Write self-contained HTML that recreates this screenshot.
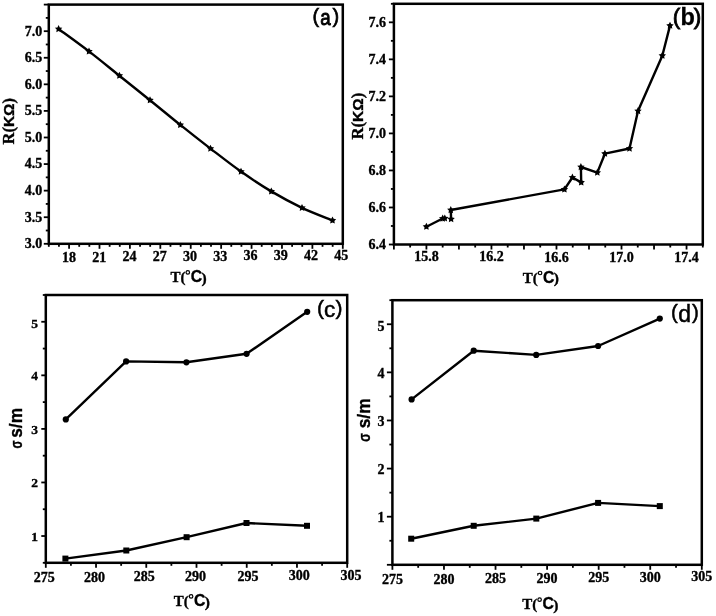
<!DOCTYPE html>
<html><head><meta charset="utf-8"><style>
html,body{margin:0;padding:0;background:#fff;}
svg{display:block;filter:grayscale(1);}
text{stroke:#000;stroke-width:0.35px;}
</style></head><body>
<svg width="716" height="616" viewBox="0 0 716 616">
<rect width="716" height="616" fill="#fff"/>
<rect x="48.80" y="4.60" width="294.00" height="239.20" fill="none" stroke="#000" stroke-width="2.5"/>
<line x1="43.80" y1="243.80" x2="48.80" y2="243.80" stroke="#000" stroke-width="1.8"/>
<line x1="45.80" y1="230.51" x2="48.80" y2="230.51" stroke="#000" stroke-width="1.8"/>
<line x1="43.80" y1="217.22" x2="48.80" y2="217.22" stroke="#000" stroke-width="1.8"/>
<line x1="45.80" y1="203.93" x2="48.80" y2="203.93" stroke="#000" stroke-width="1.8"/>
<line x1="43.80" y1="190.64" x2="48.80" y2="190.64" stroke="#000" stroke-width="1.8"/>
<line x1="45.80" y1="177.36" x2="48.80" y2="177.36" stroke="#000" stroke-width="1.8"/>
<line x1="43.80" y1="164.07" x2="48.80" y2="164.07" stroke="#000" stroke-width="1.8"/>
<line x1="45.80" y1="150.78" x2="48.80" y2="150.78" stroke="#000" stroke-width="1.8"/>
<line x1="43.80" y1="137.49" x2="48.80" y2="137.49" stroke="#000" stroke-width="1.8"/>
<line x1="45.80" y1="124.20" x2="48.80" y2="124.20" stroke="#000" stroke-width="1.8"/>
<line x1="43.80" y1="110.91" x2="48.80" y2="110.91" stroke="#000" stroke-width="1.8"/>
<line x1="45.80" y1="97.62" x2="48.80" y2="97.62" stroke="#000" stroke-width="1.8"/>
<line x1="43.80" y1="84.33" x2="48.80" y2="84.33" stroke="#000" stroke-width="1.8"/>
<line x1="45.80" y1="71.04" x2="48.80" y2="71.04" stroke="#000" stroke-width="1.8"/>
<line x1="43.80" y1="57.76" x2="48.80" y2="57.76" stroke="#000" stroke-width="1.8"/>
<line x1="45.80" y1="44.47" x2="48.80" y2="44.47" stroke="#000" stroke-width="1.8"/>
<line x1="43.80" y1="31.18" x2="48.80" y2="31.18" stroke="#000" stroke-width="1.8"/>
<line x1="45.80" y1="17.89" x2="48.80" y2="17.89" stroke="#000" stroke-width="1.8"/>
<line x1="43.80" y1="4.60" x2="48.80" y2="4.60" stroke="#000" stroke-width="1.8"/>
<line x1="48.80" y1="243.80" x2="48.80" y2="246.80" stroke="#000" stroke-width="1.8"/>
<line x1="58.94" y1="243.80" x2="58.94" y2="246.80" stroke="#000" stroke-width="1.8"/>
<line x1="69.08" y1="243.80" x2="69.08" y2="248.80" stroke="#000" stroke-width="1.8"/>
<line x1="79.21" y1="243.80" x2="79.21" y2="246.80" stroke="#000" stroke-width="1.8"/>
<line x1="89.35" y1="243.80" x2="89.35" y2="246.80" stroke="#000" stroke-width="1.8"/>
<line x1="99.49" y1="243.80" x2="99.49" y2="248.80" stroke="#000" stroke-width="1.8"/>
<line x1="109.63" y1="243.80" x2="109.63" y2="246.80" stroke="#000" stroke-width="1.8"/>
<line x1="119.77" y1="243.80" x2="119.77" y2="246.80" stroke="#000" stroke-width="1.8"/>
<line x1="129.90" y1="243.80" x2="129.90" y2="248.80" stroke="#000" stroke-width="1.8"/>
<line x1="140.04" y1="243.80" x2="140.04" y2="246.80" stroke="#000" stroke-width="1.8"/>
<line x1="150.18" y1="243.80" x2="150.18" y2="246.80" stroke="#000" stroke-width="1.8"/>
<line x1="160.32" y1="243.80" x2="160.32" y2="248.80" stroke="#000" stroke-width="1.8"/>
<line x1="170.46" y1="243.80" x2="170.46" y2="246.80" stroke="#000" stroke-width="1.8"/>
<line x1="180.59" y1="243.80" x2="180.59" y2="246.80" stroke="#000" stroke-width="1.8"/>
<line x1="190.73" y1="243.80" x2="190.73" y2="248.80" stroke="#000" stroke-width="1.8"/>
<line x1="200.87" y1="243.80" x2="200.87" y2="246.80" stroke="#000" stroke-width="1.8"/>
<line x1="211.01" y1="243.80" x2="211.01" y2="246.80" stroke="#000" stroke-width="1.8"/>
<line x1="221.14" y1="243.80" x2="221.14" y2="248.80" stroke="#000" stroke-width="1.8"/>
<line x1="231.28" y1="243.80" x2="231.28" y2="246.80" stroke="#000" stroke-width="1.8"/>
<line x1="241.42" y1="243.80" x2="241.42" y2="246.80" stroke="#000" stroke-width="1.8"/>
<line x1="251.56" y1="243.80" x2="251.56" y2="248.80" stroke="#000" stroke-width="1.8"/>
<line x1="261.70" y1="243.80" x2="261.70" y2="246.80" stroke="#000" stroke-width="1.8"/>
<line x1="271.83" y1="243.80" x2="271.83" y2="246.80" stroke="#000" stroke-width="1.8"/>
<line x1="281.97" y1="243.80" x2="281.97" y2="248.80" stroke="#000" stroke-width="1.8"/>
<line x1="292.11" y1="243.80" x2="292.11" y2="246.80" stroke="#000" stroke-width="1.8"/>
<line x1="302.25" y1="243.80" x2="302.25" y2="246.80" stroke="#000" stroke-width="1.8"/>
<line x1="312.39" y1="243.80" x2="312.39" y2="248.80" stroke="#000" stroke-width="1.8"/>
<line x1="322.52" y1="243.80" x2="322.52" y2="246.80" stroke="#000" stroke-width="1.8"/>
<line x1="332.66" y1="243.80" x2="332.66" y2="246.80" stroke="#000" stroke-width="1.8"/>
<line x1="342.80" y1="243.80" x2="342.80" y2="248.80" stroke="#000" stroke-width="1.8"/>
<text x="42.30" y="248.20" font-family='"Liberation Serif", serif' font-size="14" font-weight="bold" text-anchor="end">3.0</text>
<text x="42.30" y="221.62" font-family='"Liberation Serif", serif' font-size="14" font-weight="bold" text-anchor="end">3.5</text>
<text x="42.30" y="195.04" font-family='"Liberation Serif", serif' font-size="14" font-weight="bold" text-anchor="end">4.0</text>
<text x="42.30" y="168.47" font-family='"Liberation Serif", serif' font-size="14" font-weight="bold" text-anchor="end">4.5</text>
<text x="42.30" y="141.89" font-family='"Liberation Serif", serif' font-size="14" font-weight="bold" text-anchor="end">5.0</text>
<text x="42.30" y="115.31" font-family='"Liberation Serif", serif' font-size="14" font-weight="bold" text-anchor="end">5.5</text>
<text x="42.30" y="88.73" font-family='"Liberation Serif", serif' font-size="14" font-weight="bold" text-anchor="end">6.0</text>
<text x="42.30" y="62.16" font-family='"Liberation Serif", serif' font-size="14" font-weight="bold" text-anchor="end">6.5</text>
<text x="42.30" y="35.58" font-family='"Liberation Serif", serif' font-size="14" font-weight="bold" text-anchor="end">7.0</text>
<text x="69.08" y="262.00" font-family='"Liberation Serif", serif' font-size="14" font-weight="bold" text-anchor="middle">18</text>
<text x="99.32" y="261.74" font-family='"Liberation Serif", serif' font-size="14" font-weight="bold" text-anchor="middle">21</text>
<text x="129.57" y="261.48" font-family='"Liberation Serif", serif' font-size="14" font-weight="bold" text-anchor="middle">24</text>
<text x="159.82" y="261.23" font-family='"Liberation Serif", serif' font-size="14" font-weight="bold" text-anchor="middle">27</text>
<text x="190.06" y="260.97" font-family='"Liberation Serif", serif' font-size="14" font-weight="bold" text-anchor="middle">30</text>
<text x="220.31" y="260.71" font-family='"Liberation Serif", serif' font-size="14" font-weight="bold" text-anchor="middle">33</text>
<text x="250.56" y="260.45" font-family='"Liberation Serif", serif' font-size="14" font-weight="bold" text-anchor="middle">36</text>
<text x="280.81" y="260.20" font-family='"Liberation Serif", serif' font-size="14" font-weight="bold" text-anchor="middle">39</text>
<text x="311.05" y="259.94" font-family='"Liberation Serif", serif' font-size="14" font-weight="bold" text-anchor="middle">42</text>
<text x="341.30" y="259.68" font-family='"Liberation Serif", serif' font-size="14" font-weight="bold" text-anchor="middle">45</text>
<text transform="translate(14.30,121.30) rotate(-90)" font-family='"Liberation Serif", serif' font-size="16" font-weight="bold" text-anchor="middle" textLength="46.5" lengthAdjust="spacingAndGlyphs">R(<tspan font-family='"Liberation Sans", sans-serif' font-size="15">KΩ</tspan>)</text>
<g transform="translate(170.00,282.00)">
<text x="0.4" y="0" font-family='"Liberation Serif", serif' font-size="15" font-weight="bold">T(</text>
<circle cx="17.8" cy="-9.6" r="1.75" fill="none" stroke="#000" stroke-width="1.2"/>
<text x="20.7" y="0" font-family='"Liberation Sans", sans-serif' font-size="15.8" font-weight="bold">C</text>
<text x="31.5" y="0.6" font-family='"Liberation Serif", serif' font-size="15.5" font-weight="bold">)</text>
</g>
<text transform="translate(315.80,22.90) scale(1.0,1)" font-family='"Liberation Sans", sans-serif' font-size="20" font-weight="normal" text-anchor="middle" style="stroke-width:0.7px">(</text>
<text transform="translate(325.35,25.10) scale(0.85,1)" font-family='"Liberation Sans", sans-serif' font-size="22" font-weight="normal" text-anchor="middle" style="stroke-width:0.9px">a</text>
<text transform="translate(335.75,22.90) scale(1.0,1)" font-family='"Liberation Sans", sans-serif' font-size="20" font-weight="normal" text-anchor="middle" style="stroke-width:0.7px">)</text>
<path d="M58.60,29.00 C63.67,32.73 78.87,43.62 89.00,51.40 C99.13,59.18 109.23,67.57 119.40,75.70 C129.57,83.83 139.85,92.00 150.00,100.20 C160.15,108.40 170.22,116.83 180.30,124.90 C190.38,132.97 200.38,140.82 210.50,148.60 C220.62,156.38 230.87,164.47 241.00,171.60 C251.13,178.73 261.13,185.37 271.30,191.40 C281.47,197.43 291.80,202.97 302.00,207.80 C312.20,212.63 327.42,218.30 332.50,220.40" fill="none" stroke="#000" stroke-width="2.4"/>
<polygon points="58.60,25.10 59.78,27.38 62.31,27.79 60.50,29.62 60.89,32.16 58.60,31.00 56.31,32.16 56.70,29.62 54.89,27.79 57.42,27.38" fill="#000"/>
<polygon points="89.00,47.50 90.18,49.78 92.71,50.19 90.90,52.02 91.29,54.56 89.00,53.40 86.71,54.56 87.10,52.02 85.29,50.19 87.82,49.78" fill="#000"/>
<polygon points="119.40,71.80 120.58,74.08 123.11,74.49 121.30,76.32 121.69,78.86 119.40,77.70 117.11,78.86 117.50,76.32 115.69,74.49 118.22,74.08" fill="#000"/>
<polygon points="150.00,96.30 151.18,98.58 153.71,98.99 151.90,100.82 152.29,103.36 150.00,102.20 147.71,103.36 148.10,100.82 146.29,98.99 148.82,98.58" fill="#000"/>
<polygon points="180.30,121.00 181.48,123.28 184.01,123.69 182.20,125.52 182.59,128.06 180.30,126.90 178.01,128.06 178.40,125.52 176.59,123.69 179.12,123.28" fill="#000"/>
<polygon points="210.50,144.70 211.68,146.98 214.21,147.39 212.40,149.22 212.79,151.76 210.50,150.60 208.21,151.76 208.60,149.22 206.79,147.39 209.32,146.98" fill="#000"/>
<polygon points="241.00,167.70 242.18,169.98 244.71,170.39 242.90,172.22 243.29,174.76 241.00,173.60 238.71,174.76 239.10,172.22 237.29,170.39 239.82,169.98" fill="#000"/>
<polygon points="271.30,187.50 272.48,189.78 275.01,190.19 273.20,192.02 273.59,194.56 271.30,193.40 269.01,194.56 269.40,192.02 267.59,190.19 270.12,189.78" fill="#000"/>
<polygon points="302.00,203.90 303.18,206.18 305.71,206.59 303.90,208.42 304.29,210.96 302.00,209.80 299.71,210.96 300.10,208.42 298.29,206.59 300.82,206.18" fill="#000"/>
<polygon points="332.50,216.50 333.68,218.78 336.21,219.19 334.40,221.02 334.79,223.56 332.50,222.40 330.21,223.56 330.60,221.02 328.79,219.19 331.32,218.78" fill="#000"/>
<rect x="393.90" y="3.80" width="308.90" height="240.70" fill="none" stroke="#000" stroke-width="2.5"/>
<line x1="388.90" y1="244.50" x2="393.90" y2="244.50" stroke="#000" stroke-width="1.8"/>
<line x1="390.90" y1="225.98" x2="393.90" y2="225.98" stroke="#000" stroke-width="1.8"/>
<line x1="388.90" y1="207.47" x2="393.90" y2="207.47" stroke="#000" stroke-width="1.8"/>
<line x1="390.90" y1="188.95" x2="393.90" y2="188.95" stroke="#000" stroke-width="1.8"/>
<line x1="388.90" y1="170.44" x2="393.90" y2="170.44" stroke="#000" stroke-width="1.8"/>
<line x1="390.90" y1="151.92" x2="393.90" y2="151.92" stroke="#000" stroke-width="1.8"/>
<line x1="388.90" y1="133.41" x2="393.90" y2="133.41" stroke="#000" stroke-width="1.8"/>
<line x1="390.90" y1="114.89" x2="393.90" y2="114.89" stroke="#000" stroke-width="1.8"/>
<line x1="388.90" y1="96.38" x2="393.90" y2="96.38" stroke="#000" stroke-width="1.8"/>
<line x1="390.90" y1="77.86" x2="393.90" y2="77.86" stroke="#000" stroke-width="1.8"/>
<line x1="388.90" y1="59.35" x2="393.90" y2="59.35" stroke="#000" stroke-width="1.8"/>
<line x1="390.90" y1="40.83" x2="393.90" y2="40.83" stroke="#000" stroke-width="1.8"/>
<line x1="388.90" y1="22.32" x2="393.90" y2="22.32" stroke="#000" stroke-width="1.8"/>
<line x1="390.90" y1="3.80" x2="393.90" y2="3.80" stroke="#000" stroke-width="1.8"/>
<line x1="393.90" y1="244.50" x2="393.90" y2="249.50" stroke="#000" stroke-width="1.8"/>
<line x1="410.16" y1="244.50" x2="410.16" y2="247.50" stroke="#000" stroke-width="1.8"/>
<line x1="426.42" y1="244.50" x2="426.42" y2="249.50" stroke="#000" stroke-width="1.8"/>
<line x1="442.67" y1="244.50" x2="442.67" y2="247.50" stroke="#000" stroke-width="1.8"/>
<line x1="458.93" y1="244.50" x2="458.93" y2="249.50" stroke="#000" stroke-width="1.8"/>
<line x1="475.19" y1="244.50" x2="475.19" y2="247.50" stroke="#000" stroke-width="1.8"/>
<line x1="491.45" y1="244.50" x2="491.45" y2="249.50" stroke="#000" stroke-width="1.8"/>
<line x1="507.71" y1="244.50" x2="507.71" y2="247.50" stroke="#000" stroke-width="1.8"/>
<line x1="523.96" y1="244.50" x2="523.96" y2="249.50" stroke="#000" stroke-width="1.8"/>
<line x1="540.22" y1="244.50" x2="540.22" y2="247.50" stroke="#000" stroke-width="1.8"/>
<line x1="556.48" y1="244.50" x2="556.48" y2="249.50" stroke="#000" stroke-width="1.8"/>
<line x1="572.74" y1="244.50" x2="572.74" y2="247.50" stroke="#000" stroke-width="1.8"/>
<line x1="588.99" y1="244.50" x2="588.99" y2="249.50" stroke="#000" stroke-width="1.8"/>
<line x1="605.25" y1="244.50" x2="605.25" y2="247.50" stroke="#000" stroke-width="1.8"/>
<line x1="621.51" y1="244.50" x2="621.51" y2="249.50" stroke="#000" stroke-width="1.8"/>
<line x1="637.77" y1="244.50" x2="637.77" y2="247.50" stroke="#000" stroke-width="1.8"/>
<line x1="654.03" y1="244.50" x2="654.03" y2="249.50" stroke="#000" stroke-width="1.8"/>
<line x1="670.28" y1="244.50" x2="670.28" y2="247.50" stroke="#000" stroke-width="1.8"/>
<line x1="686.54" y1="244.50" x2="686.54" y2="249.50" stroke="#000" stroke-width="1.8"/>
<line x1="702.80" y1="244.50" x2="702.80" y2="247.50" stroke="#000" stroke-width="1.8"/>
<text x="386.00" y="248.90" font-family='"Liberation Serif", serif' font-size="14" font-weight="bold" text-anchor="end">6.4</text>
<text x="386.00" y="211.87" font-family='"Liberation Serif", serif' font-size="14" font-weight="bold" text-anchor="end">6.6</text>
<text x="386.00" y="174.84" font-family='"Liberation Serif", serif' font-size="14" font-weight="bold" text-anchor="end">6.8</text>
<text x="386.00" y="137.81" font-family='"Liberation Serif", serif' font-size="14" font-weight="bold" text-anchor="end">7.0</text>
<text x="386.00" y="100.78" font-family='"Liberation Serif", serif' font-size="14" font-weight="bold" text-anchor="end">7.2</text>
<text x="386.00" y="63.75" font-family='"Liberation Serif", serif' font-size="14" font-weight="bold" text-anchor="end">7.4</text>
<text x="386.00" y="26.72" font-family='"Liberation Serif", serif' font-size="14" font-weight="bold" text-anchor="end">7.6</text>
<text x="426.42" y="261.20" font-family='"Liberation Serif", serif' font-size="14" font-weight="bold" text-anchor="middle">15.8</text>
<text x="491.45" y="261.40" font-family='"Liberation Serif", serif' font-size="14" font-weight="bold" text-anchor="middle">16.2</text>
<text x="556.48" y="261.59" font-family='"Liberation Serif", serif' font-size="14" font-weight="bold" text-anchor="middle">16.6</text>
<text x="621.51" y="261.79" font-family='"Liberation Serif", serif' font-size="14" font-weight="bold" text-anchor="middle">17.0</text>
<text x="686.54" y="261.98" font-family='"Liberation Serif", serif' font-size="14" font-weight="bold" text-anchor="middle">17.4</text>
<text transform="translate(363.00,116.20) rotate(-90)" font-family='"Liberation Serif", serif' font-size="16" font-weight="bold" text-anchor="middle" textLength="46.7" lengthAdjust="spacingAndGlyphs">R(<tspan font-family='"Liberation Sans", sans-serif' font-size="15">KΩ</tspan>)</text>
<g transform="translate(522.30,282.60)">
<text x="0.4" y="0" font-family='"Liberation Serif", serif' font-size="15" font-weight="bold">T(</text>
<circle cx="17.8" cy="-9.6" r="1.75" fill="none" stroke="#000" stroke-width="1.2"/>
<text x="20.7" y="0" font-family='"Liberation Sans", sans-serif' font-size="15.8" font-weight="bold">C</text>
<text x="31.5" y="0.6" font-family='"Liberation Serif", serif' font-size="15.5" font-weight="bold">)</text>
</g>
<text transform="translate(676.60,23.90) scale(1.0,1)" font-family='"Liberation Sans", sans-serif' font-size="22.5" font-weight="normal" text-anchor="middle" style="stroke-width:0.8px">(</text>
<text transform="translate(687.70,25.00) scale(1.0,1)" font-family='"Liberation Sans", sans-serif' font-size="23.5" font-weight="bold" text-anchor="middle" style="stroke-width:0.3px">b</text>
<text transform="translate(697.60,23.90) scale(1.0,1)" font-family='"Liberation Sans", sans-serif' font-size="22.5" font-weight="normal" text-anchor="middle" style="stroke-width:0.8px">)</text>
<polyline points="426.40,226.70 442.70,218.50" fill="none" stroke="#000" stroke-width="2.4" stroke-linejoin="round"/>
<polyline points="451.10,219.10 450.80,210.00 564.40,189.40 572.40,177.50 581.20,182.40 580.90,167.00 597.30,172.60 604.90,153.70 629.50,148.50 638.00,111.00 662.30,55.70 670.00,25.60" fill="none" stroke="#000" stroke-width="2.4" stroke-linejoin="round"/>
<polygon points="426.40,222.80 427.58,225.08 430.11,225.49 428.30,227.32 428.69,229.86 426.40,228.70 424.11,229.86 424.50,227.32 422.69,225.49 425.22,225.08" fill="#000"/>
<polygon points="442.70,214.60 443.88,216.88 446.41,217.29 444.60,219.12 444.99,221.66 442.70,220.50 440.41,221.66 440.80,219.12 438.99,217.29 441.52,216.88" fill="#000"/>
<polygon points="451.10,215.20 452.28,217.48 454.81,217.89 453.00,219.72 453.39,222.26 451.10,221.10 448.81,222.26 449.20,219.72 447.39,217.89 449.92,217.48" fill="#000"/>
<polygon points="450.80,206.10 451.98,208.38 454.51,208.79 452.70,210.62 453.09,213.16 450.80,212.00 448.51,213.16 448.90,210.62 447.09,208.79 449.62,208.38" fill="#000"/>
<polygon points="564.40,185.50 565.58,187.78 568.11,188.19 566.30,190.02 566.69,192.56 564.40,191.40 562.11,192.56 562.50,190.02 560.69,188.19 563.22,187.78" fill="#000"/>
<polygon points="572.40,173.60 573.58,175.88 576.11,176.29 574.30,178.12 574.69,180.66 572.40,179.50 570.11,180.66 570.50,178.12 568.69,176.29 571.22,175.88" fill="#000"/>
<polygon points="581.20,178.50 582.38,180.78 584.91,181.19 583.10,183.02 583.49,185.56 581.20,184.40 578.91,185.56 579.30,183.02 577.49,181.19 580.02,180.78" fill="#000"/>
<polygon points="580.90,163.10 582.08,165.38 584.61,165.79 582.80,167.62 583.19,170.16 580.90,169.00 578.61,170.16 579.00,167.62 577.19,165.79 579.72,165.38" fill="#000"/>
<polygon points="597.30,168.70 598.48,170.98 601.01,171.39 599.20,173.22 599.59,175.76 597.30,174.60 595.01,175.76 595.40,173.22 593.59,171.39 596.12,170.98" fill="#000"/>
<polygon points="604.90,149.80 606.08,152.08 608.61,152.49 606.80,154.32 607.19,156.86 604.90,155.70 602.61,156.86 603.00,154.32 601.19,152.49 603.72,152.08" fill="#000"/>
<polygon points="629.50,144.60 630.68,146.88 633.21,147.29 631.40,149.12 631.79,151.66 629.50,150.50 627.21,151.66 627.60,149.12 625.79,147.29 628.32,146.88" fill="#000"/>
<polygon points="638.00,107.10 639.18,109.38 641.71,109.79 639.90,111.62 640.29,114.16 638.00,113.00 635.71,114.16 636.10,111.62 634.29,109.79 636.82,109.38" fill="#000"/>
<polygon points="662.30,51.80 663.48,54.08 666.01,54.49 664.20,56.32 664.59,58.86 662.30,57.70 660.01,58.86 660.40,56.32 658.59,54.49 661.12,54.08" fill="#000"/>
<polygon points="670.00,21.70 671.18,23.98 673.71,24.39 671.90,26.22 672.29,28.76 670.00,27.60 667.71,28.76 668.10,26.22 666.29,24.39 668.82,23.98" fill="#000"/>
<polygon points="444.80,214.40 445.98,216.68 448.51,217.09 446.70,218.92 447.09,221.46 444.80,220.30 442.51,221.46 442.90,218.92 441.09,217.09 443.62,216.68" fill="#000"/>
<rect x="45.80" y="295.00" width="301.40" height="267.80" fill="none" stroke="#000" stroke-width="2.5"/>
<line x1="42.80" y1="562.80" x2="45.80" y2="562.80" stroke="#000" stroke-width="1.8"/>
<line x1="41.30" y1="536.02" x2="45.80" y2="536.02" stroke="#000" stroke-width="1.8"/>
<line x1="42.80" y1="509.24" x2="45.80" y2="509.24" stroke="#000" stroke-width="1.8"/>
<line x1="41.30" y1="482.46" x2="45.80" y2="482.46" stroke="#000" stroke-width="1.8"/>
<line x1="42.80" y1="455.68" x2="45.80" y2="455.68" stroke="#000" stroke-width="1.8"/>
<line x1="41.30" y1="428.90" x2="45.80" y2="428.90" stroke="#000" stroke-width="1.8"/>
<line x1="42.80" y1="402.12" x2="45.80" y2="402.12" stroke="#000" stroke-width="1.8"/>
<line x1="41.30" y1="375.34" x2="45.80" y2="375.34" stroke="#000" stroke-width="1.8"/>
<line x1="42.80" y1="348.56" x2="45.80" y2="348.56" stroke="#000" stroke-width="1.8"/>
<line x1="41.30" y1="321.78" x2="45.80" y2="321.78" stroke="#000" stroke-width="1.8"/>
<line x1="42.80" y1="295.00" x2="45.80" y2="295.00" stroke="#000" stroke-width="1.8"/>
<line x1="45.80" y1="562.80" x2="45.80" y2="567.80" stroke="#000" stroke-width="1.8"/>
<line x1="70.92" y1="562.80" x2="70.92" y2="565.80" stroke="#000" stroke-width="1.8"/>
<line x1="96.03" y1="562.80" x2="96.03" y2="567.80" stroke="#000" stroke-width="1.8"/>
<line x1="121.15" y1="562.80" x2="121.15" y2="565.80" stroke="#000" stroke-width="1.8"/>
<line x1="146.27" y1="562.80" x2="146.27" y2="567.80" stroke="#000" stroke-width="1.8"/>
<line x1="171.38" y1="562.80" x2="171.38" y2="565.80" stroke="#000" stroke-width="1.8"/>
<line x1="196.50" y1="562.80" x2="196.50" y2="567.80" stroke="#000" stroke-width="1.8"/>
<line x1="221.62" y1="562.80" x2="221.62" y2="565.80" stroke="#000" stroke-width="1.8"/>
<line x1="246.73" y1="562.80" x2="246.73" y2="567.80" stroke="#000" stroke-width="1.8"/>
<line x1="271.85" y1="562.80" x2="271.85" y2="565.80" stroke="#000" stroke-width="1.8"/>
<line x1="296.97" y1="562.80" x2="296.97" y2="567.80" stroke="#000" stroke-width="1.8"/>
<line x1="322.08" y1="562.80" x2="322.08" y2="565.80" stroke="#000" stroke-width="1.8"/>
<line x1="347.20" y1="562.80" x2="347.20" y2="567.80" stroke="#000" stroke-width="1.8"/>
<text x="38.00" y="540.62" font-family='"Liberation Serif", serif' font-size="13.5" font-weight="bold" text-anchor="end">1</text>
<text x="38.00" y="487.06" font-family='"Liberation Serif", serif' font-size="13.5" font-weight="bold" text-anchor="end">2</text>
<text x="38.00" y="433.50" font-family='"Liberation Serif", serif' font-size="13.5" font-weight="bold" text-anchor="end">3</text>
<text x="38.00" y="379.94" font-family='"Liberation Serif", serif' font-size="13.5" font-weight="bold" text-anchor="end">4</text>
<text x="38.00" y="327.78" font-family='"Liberation Serif", serif' font-size="13.5" font-weight="bold" text-anchor="end">5</text>
<text x="44.20" y="582.10" font-family='"Liberation Serif", serif' font-size="14" font-weight="bold" text-anchor="middle">275</text>
<text x="94.60" y="581.77" font-family='"Liberation Serif", serif' font-size="14" font-weight="bold" text-anchor="middle">280</text>
<text x="144.20" y="581.45" font-family='"Liberation Serif", serif' font-size="14" font-weight="bold" text-anchor="middle">285</text>
<text x="195.60" y="581.11" font-family='"Liberation Serif", serif' font-size="14" font-weight="bold" text-anchor="middle">290</text>
<text x="247.90" y="580.77" font-family='"Liberation Serif", serif' font-size="14" font-weight="bold" text-anchor="middle">295</text>
<text x="299.20" y="580.44" font-family='"Liberation Serif", serif' font-size="14" font-weight="bold" text-anchor="middle">300</text>
<text x="350.90" y="580.11" font-family='"Liberation Serif", serif' font-size="14" font-weight="bold" text-anchor="middle">305</text>
<text transform="translate(21.50,422.90) rotate(-90)" font-family='"Liberation Sans", sans-serif' font-size="17.5" font-weight="bold" text-anchor="middle" textLength="29.8" lengthAdjust="spacingAndGlyphs">s/m</text>
<text transform="translate(21.50,444.60) rotate(-90)" font-family='"Liberation Sans", sans-serif' font-size="16.5" font-weight="bold" text-anchor="middle" textLength="8.0" lengthAdjust="spacingAndGlyphs">σ</text>
<g transform="translate(173.30,606.00)">
<text x="0.4" y="0" font-family='"Liberation Serif", serif' font-size="15" font-weight="bold">T(</text>
<circle cx="17.8" cy="-9.6" r="1.75" fill="none" stroke="#000" stroke-width="1.2"/>
<text x="20.7" y="0" font-family='"Liberation Sans", sans-serif' font-size="15.8" font-weight="bold">C</text>
<text x="31.5" y="0.6" font-family='"Liberation Serif", serif' font-size="15.5" font-weight="bold">)</text>
</g>
<text transform="translate(320.50,315.30) scale(1.0,1)" font-family='"Liberation Sans", sans-serif' font-size="21" font-weight="normal" text-anchor="middle" style="stroke-width:0.5px">(</text>
<text transform="translate(329.60,317.30) scale(1.0,1)" font-family='"Liberation Sans", sans-serif' font-size="22.5" font-weight="normal" text-anchor="middle" style="stroke-width:0.5px">c</text>
<text transform="translate(339.10,315.30) scale(1.0,1)" font-family='"Liberation Sans", sans-serif' font-size="21" font-weight="normal" text-anchor="middle" style="stroke-width:0.5px">)</text>
<polyline points="65.80,419.40 126.10,361.40 186.40,362.30 246.60,353.80 307.20,311.80" fill="none" stroke="#000" stroke-width="2.4" stroke-linejoin="round"/>
<polyline points="65.40,558.60 126.30,550.50 186.60,537.20 246.50,523.00 307.00,525.80" fill="none" stroke="#000" stroke-width="2.4" stroke-linejoin="round"/>
<circle cx="65.80" cy="419.40" r="3.1" fill="#000"/>
<circle cx="126.10" cy="361.40" r="3.1" fill="#000"/>
<circle cx="186.40" cy="362.30" r="3.1" fill="#000"/>
<circle cx="246.60" cy="353.80" r="3.1" fill="#000"/>
<circle cx="307.20" cy="311.80" r="3.1" fill="#000"/>
<rect x="62.40" y="555.60" width="6.0" height="6.0" fill="#000"/>
<rect x="123.30" y="547.50" width="6.0" height="6.0" fill="#000"/>
<rect x="183.60" y="534.20" width="6.0" height="6.0" fill="#000"/>
<rect x="243.50" y="520.00" width="6.0" height="6.0" fill="#000"/>
<rect x="304.00" y="522.80" width="6.0" height="6.0" fill="#000"/>
<rect x="392.40" y="300.20" width="309.40" height="264.60" fill="none" stroke="#000" stroke-width="2.5"/>
<line x1="386.90" y1="564.80" x2="392.40" y2="564.80" stroke="#000" stroke-width="1.8"/>
<line x1="389.40" y1="540.75" x2="392.40" y2="540.75" stroke="#000" stroke-width="1.8"/>
<line x1="386.90" y1="516.69" x2="392.40" y2="516.69" stroke="#000" stroke-width="1.8"/>
<line x1="389.40" y1="492.64" x2="392.40" y2="492.64" stroke="#000" stroke-width="1.8"/>
<line x1="386.90" y1="468.58" x2="392.40" y2="468.58" stroke="#000" stroke-width="1.8"/>
<line x1="389.40" y1="444.53" x2="392.40" y2="444.53" stroke="#000" stroke-width="1.8"/>
<line x1="386.90" y1="420.47" x2="392.40" y2="420.47" stroke="#000" stroke-width="1.8"/>
<line x1="389.40" y1="396.42" x2="392.40" y2="396.42" stroke="#000" stroke-width="1.8"/>
<line x1="386.90" y1="372.36" x2="392.40" y2="372.36" stroke="#000" stroke-width="1.8"/>
<line x1="389.40" y1="348.31" x2="392.40" y2="348.31" stroke="#000" stroke-width="1.8"/>
<line x1="386.90" y1="324.25" x2="392.40" y2="324.25" stroke="#000" stroke-width="1.8"/>
<line x1="389.40" y1="300.20" x2="392.40" y2="300.20" stroke="#000" stroke-width="1.8"/>
<line x1="392.40" y1="564.80" x2="392.40" y2="569.80" stroke="#000" stroke-width="1.8"/>
<line x1="418.18" y1="564.80" x2="418.18" y2="567.80" stroke="#000" stroke-width="1.8"/>
<line x1="443.97" y1="564.80" x2="443.97" y2="569.80" stroke="#000" stroke-width="1.8"/>
<line x1="469.75" y1="564.80" x2="469.75" y2="567.80" stroke="#000" stroke-width="1.8"/>
<line x1="495.53" y1="564.80" x2="495.53" y2="569.80" stroke="#000" stroke-width="1.8"/>
<line x1="521.32" y1="564.80" x2="521.32" y2="567.80" stroke="#000" stroke-width="1.8"/>
<line x1="547.10" y1="564.80" x2="547.10" y2="569.80" stroke="#000" stroke-width="1.8"/>
<line x1="572.88" y1="564.80" x2="572.88" y2="567.80" stroke="#000" stroke-width="1.8"/>
<line x1="598.67" y1="564.80" x2="598.67" y2="569.80" stroke="#000" stroke-width="1.8"/>
<line x1="624.45" y1="564.80" x2="624.45" y2="567.80" stroke="#000" stroke-width="1.8"/>
<line x1="650.23" y1="564.80" x2="650.23" y2="569.80" stroke="#000" stroke-width="1.8"/>
<line x1="676.02" y1="564.80" x2="676.02" y2="567.80" stroke="#000" stroke-width="1.8"/>
<line x1="701.80" y1="564.80" x2="701.80" y2="569.80" stroke="#000" stroke-width="1.8"/>
<text x="384.40" y="522.09" font-family='"Liberation Serif", serif' font-size="14" font-weight="bold" text-anchor="end">1</text>
<text x="384.40" y="473.98" font-family='"Liberation Serif", serif' font-size="14" font-weight="bold" text-anchor="end">2</text>
<text x="384.40" y="425.87" font-family='"Liberation Serif", serif' font-size="14" font-weight="bold" text-anchor="end">3</text>
<text x="384.40" y="377.76" font-family='"Liberation Serif", serif' font-size="14" font-weight="bold" text-anchor="end">4</text>
<text x="384.40" y="331.45" font-family='"Liberation Serif", serif' font-size="14" font-weight="bold" text-anchor="end">5</text>
<text x="392.40" y="584.30" font-family='"Liberation Serif", serif' font-size="14" font-weight="bold" text-anchor="middle">275</text>
<text x="443.97" y="583.81" font-family='"Liberation Serif", serif' font-size="14" font-weight="bold" text-anchor="middle">280</text>
<text x="495.53" y="583.32" font-family='"Liberation Serif", serif' font-size="14" font-weight="bold" text-anchor="middle">285</text>
<text x="547.10" y="582.83" font-family='"Liberation Serif", serif' font-size="14" font-weight="bold" text-anchor="middle">290</text>
<text x="598.67" y="582.34" font-family='"Liberation Serif", serif' font-size="14" font-weight="bold" text-anchor="middle">295</text>
<text x="650.23" y="581.85" font-family='"Liberation Serif", serif' font-size="14" font-weight="bold" text-anchor="middle">300</text>
<text x="701.80" y="581.36" font-family='"Liberation Serif", serif' font-size="14" font-weight="bold" text-anchor="middle">305</text>
<text transform="translate(369.70,413.40) rotate(-90)" font-family='"Liberation Sans", sans-serif' font-size="17.5" font-weight="bold" text-anchor="middle" textLength="29.8" lengthAdjust="spacingAndGlyphs">s/m</text>
<text transform="translate(369.70,437.50) rotate(-90)" font-family='"Liberation Sans", sans-serif' font-size="16.5" font-weight="bold" text-anchor="middle" textLength="8.6" lengthAdjust="spacingAndGlyphs">σ</text>
<g transform="translate(521.80,609.30)">
<text x="0.4" y="0" font-family='"Liberation Serif", serif' font-size="15" font-weight="bold">T(</text>
<circle cx="17.8" cy="-9.6" r="1.75" fill="none" stroke="#000" stroke-width="1.2"/>
<text x="20.7" y="0" font-family='"Liberation Sans", sans-serif' font-size="15.8" font-weight="bold">C</text>
<text x="31.5" y="0.6" font-family='"Liberation Serif", serif' font-size="15.5" font-weight="bold">)</text>
</g>
<text transform="translate(674.50,319.20) scale(1.0,1)" font-family='"Liberation Sans", sans-serif' font-size="20.5" font-weight="normal" text-anchor="middle" style="stroke-width:0.5px">(</text>
<text transform="translate(684.70,321.60) scale(1.0,1)" font-family='"Liberation Sans", sans-serif' font-size="23" font-weight="normal" text-anchor="middle" style="stroke-width:0.5px">d</text>
<text transform="translate(695.50,319.20) scale(1.0,1)" font-family='"Liberation Sans", sans-serif' font-size="20.5" font-weight="normal" text-anchor="middle" style="stroke-width:0.5px">)</text>
<polyline points="411.60,399.40 473.70,350.70 536.20,354.90 598.10,346.00 659.80,318.60" fill="none" stroke="#000" stroke-width="2.4" stroke-linejoin="round"/>
<polyline points="411.20,538.70 473.70,525.80 536.30,518.60 598.10,502.90 659.80,506.10" fill="none" stroke="#000" stroke-width="2.4" stroke-linejoin="round"/>
<circle cx="411.60" cy="399.40" r="3.1" fill="#000"/>
<circle cx="473.70" cy="350.70" r="3.1" fill="#000"/>
<circle cx="536.20" cy="354.90" r="3.1" fill="#000"/>
<circle cx="598.10" cy="346.00" r="3.1" fill="#000"/>
<circle cx="659.80" cy="318.60" r="3.1" fill="#000"/>
<rect x="408.20" y="535.70" width="6.0" height="6.0" fill="#000"/>
<rect x="470.70" y="522.80" width="6.0" height="6.0" fill="#000"/>
<rect x="533.30" y="515.60" width="6.0" height="6.0" fill="#000"/>
<rect x="595.10" y="499.90" width="6.0" height="6.0" fill="#000"/>
<rect x="656.80" y="503.10" width="6.0" height="6.0" fill="#000"/>
</svg>
</body></html>
